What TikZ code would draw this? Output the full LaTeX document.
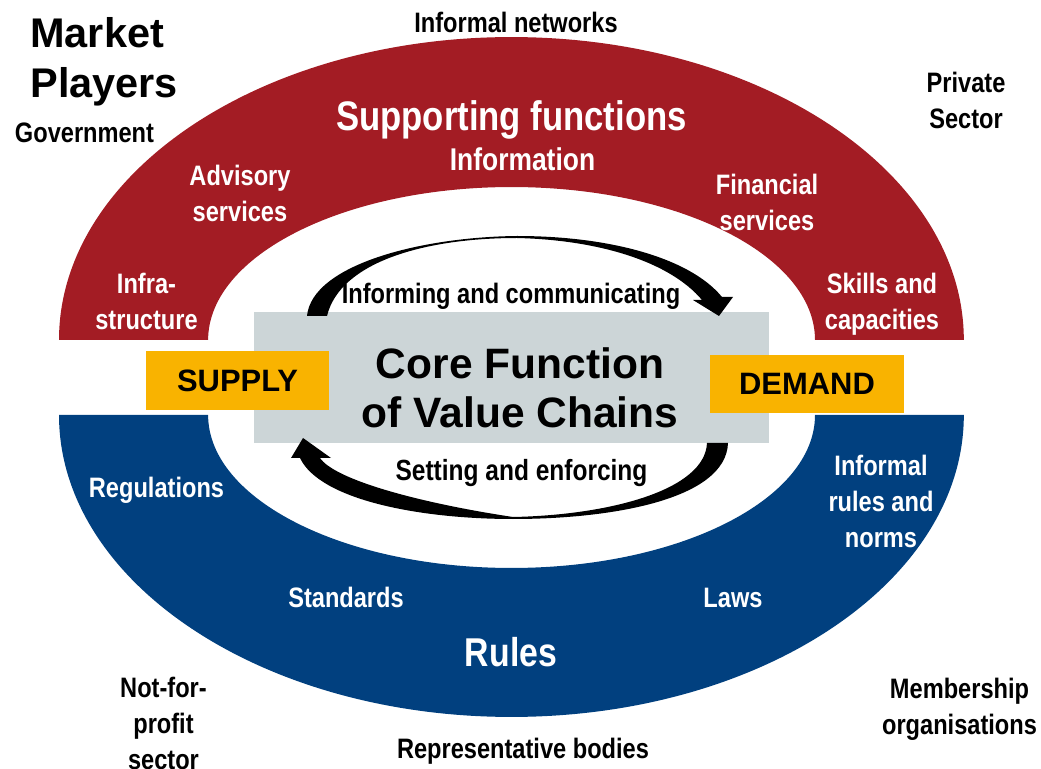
\documentclass[tikz,border=0pt]{standalone}
\usepackage{fontspec}
\setmainfont{Liberation Sans}
\newfontfamily\narrowsans{Liberation Sans}[FakeStretch=0.84]
\usepackage{xcolor}
\usepackage{tikz}

\definecolor{bandred}{HTML}{A31C24}
\definecolor{bandblue}{HTML}{01407F}
\definecolor{coregray}{HTML}{CCD5D7}
\definecolor{marketgold}{HTML}{F9B300}

\begin{document}
\begin{tikzpicture}[
  x=0.02cm, y=0.02cm,
  lbl/.style={inner sep=0pt, align=center, font=\narrowsans\bfseries\fontsize{16}{20.5}\selectfont},
  onband/.style={lbl, text=white},
  bigband/.style={inner sep=0pt, text=white, font=\narrowsans\bfseries\fontsize{23.5}{28}\selectfont},
  corebox/.style={rectangle, fill=coregray, minimum width=10.3cm, minimum height=2.62cm},
  sidebox/.style={rectangle, fill=marketgold, minimum height=1.17cm, inner sep=0pt,
                  font=\bfseries\fontsize{17.6}{21}\selectfont},
  cyclearrow/.style={fill=black}
]
  \useasboundingbox (0,0) rectangle (1041,768);

  \fill[bandred] (59,428) arc[start angle=180, end angle=0, x radius=9.05cm, y radius=6.06cm]
    -- (815,428) arc[start angle=0, end angle=180, x radius=6.07cm, y radius=3.06cm] -- cycle;
  \fill[bandblue] (59,353) arc[start angle=180, end angle=360, x radius=9.05cm, y radius=6.04cm]
    -- (815,353) arc[start angle=0, end angle=-180, x radius=6.07cm, y radius=3.06cm] -- cycle;

  \node[corebox] (core) at (511.5,390.5) {};

  \fill[cyclearrow] (307,452) .. controls (312,503) and (420,531) .. (517,532)
    .. controls (610,532) and (690,510) .. (722,471) -- (733,471) -- (719,452) -- (693,468) -- (702,468)
    .. controls (670,506) and (600,528) .. (517,530)
    .. controls (425,530) and (340,506) .. (327,452) -- cycle;
  \fill[cyclearrow] (728,325) .. controls (726,268) and (610,249) .. (513,249)
    .. controls (420,249) and (320,268) .. (300,310) -- (291,310) -- (303,330) -- (331,310) -- (320,310)
    .. controls (335,288) and (420,265) .. (513,251)
    .. controls (610,253) and (705,278) .. (707,325) -- cycle;

  \node[lbl, anchor=north west, align=left, font=\bfseries\fontsize{23.6}{28.5}\selectfont] (players) at (30,751) {Market\\Players};
  \node[lbl, anchor=base] (government) at (84.5,625) {Government};
  \node[lbl, anchor=base] (networks) at (516,735) {Informal networks};
  \node[lbl, anchor=north] (private) at (966,696) {Private\\Sector};
  \node[lbl, anchor=north] (nonprofit) at (163.5,91) {Not-for-\\profit\\sector};
  \node[lbl, anchor=base] (bodies) at (523,10) {Representative bodies};
  \node[lbl, anchor=north] (members) at (959.5,90) {Membership\\organisations};

  \node[bigband, anchor=base] (support) at (511.5,637) {Supporting functions};
  \node[onband, anchor=base, font=\narrowsans\bfseries\fontsize{17.9}{21}\selectfont] (information) at (522.5,597) {Information};
  \node[onband, anchor=north] (advisory) at (240,603) {Advisory\\services};
  \node[onband, anchor=north] (infra) at (146.5,495) {Infra-\\structure};
  \node[onband, anchor=north] (financial) at (767,594) {Financial\\services};
  \node[onband, anchor=north] (skills) at (882,495) {Skills and\\capacities};

  \node[bigband, anchor=base, font=\narrowsans\bfseries\fontsize{22.9}{27}\selectfont] (rules) at (511,102) {Rules};
  \node[onband, anchor=base] (regulations) at (156.5,271) {Regulations};
  \node[onband, anchor=base] (standards) at (346,161) {Standards};
  \node[onband, anchor=base] (laws) at (733,161) {Laws};
  \node[onband, anchor=north] (norms) at (881,313) {Informal\\rules and\\norms};

  \node[lbl, anchor=north, font=\bfseries\fontsize{24.2}{27.9}\selectfont] (corelabel) at (520,421) {Core Function\\of Value Chains};
  \node[sidebox, minimum width=3.66cm] (supply) at (237.5,387.5) {SUPPLY};
  \node[sidebox, minimum width=3.88cm] (demand) at (807,384) {DEMAND};

  \node[lbl, anchor=base] (informing) at (511,464) {Informing and communicating};
  \node[lbl, anchor=base, font=\narrowsans\bfseries\fontsize{16.6}{20.5}\selectfont] (setting) at (521.5,288) {Setting and enforcing};
\end{tikzpicture}
\end{document}
